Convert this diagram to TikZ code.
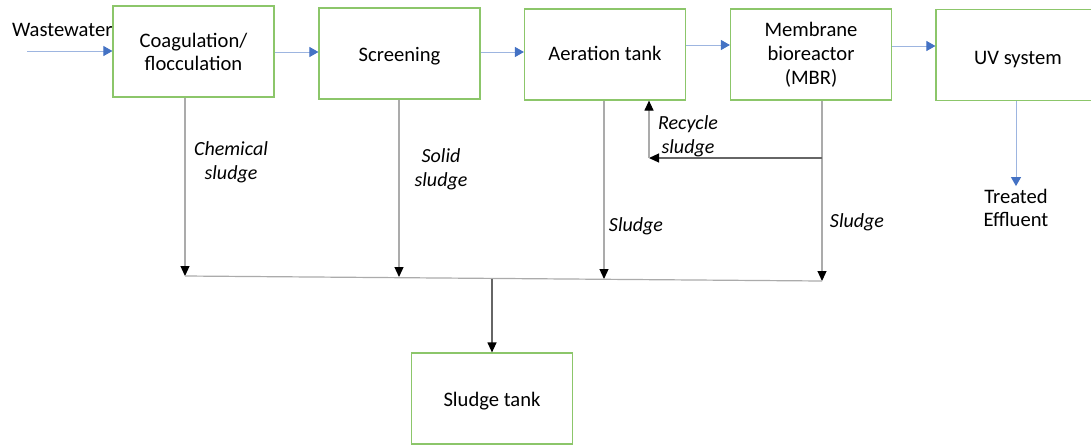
\documentclass[tikz,border=0pt]{standalone}
\usepackage{fontspec}
\setmainfont{Carlito}
\usetikzlibrary{arrows.meta}
\definecolor{boxgreen}{HTML}{8CC66A}
\definecolor{flowblue}{HTML}{9DB5E0}
\definecolor{tipblue}{HTML}{4472C4}
\definecolor{sludgegray}{HTML}{ABABAB}
\newcommand\boxtext[2]{\raisebox{-#1}[\height][\depth]{\begin{tabular}{@{}c@{}}#2\end{tabular}}}
\tikzstyle{unit}=[draw=boxgreen,line width=.6pt,minimum width=80.5pt,minimum height=45.5pt,align=center,inner sep=2pt]
\tikzstyle{flowhead}=[>/.tip={Triangle[color=tipblue,length=4.5pt,width=5pt]}]
\tikzstyle{sludgehead}=[>/.tip={Triangle[color=black,length=5pt,width=4.5pt]}]
\tikzstyle{flow}=[line width=.5pt,draw=flowblue,flowhead,->]
\tikzstyle{sl}=[line width=.6pt,draw=sludgegray,sludgehead,->]
\tikzstyle{note}=[font=\itshape,align=center]
\begin{document}
\begin{tikzpicture}[x=0.5pt,y=-0.5pt,font=\fontsize{10.3}{11.6}\selectfont]
	\useasboundingbox (0,0) rectangle (1091,445);
	\node[unit] (coag)   at (193.5,51.5) {\boxtext{1.3pt}{Coagulation/\\flocculation}};
	\node[unit] (screen) at (399.5,53.5) {\boxtext{1.5pt}{Screening}};
	\node[unit] (aer)    at (605,54.5)   {\boxtext{0.8pt}{Aeration tank}};
	\node[unit] (mbr)    at (811,54.5)   {\boxtext{0.8pt}{Membrane\\[0.5pt]bioreactor\\[0.5pt](MBR)}};
	\node[unit,minimum width=82pt] (uv) at (1018,55) {\boxtext{2.3pt}{UV system}};
	\node[unit] (tank)   at (492,398.5)  {\boxtext{1.8pt}{Sludge tank}};
	\node[anchor=west] (ww) at (5,30) {Wastewater};
	\node[align=center] (eff) at (1016,208) {Treated\\Effluent};
	\coordinate (in) at (27,51);
	\draw[flow] (in) -- (coag.west |- in);
	\draw[flow] (coag.east |- 0,52) -- (screen.west |- 0,52);
	\draw[flow] (screen.east |- 0,52) -- (aer.west |- 0,52);
	\draw[flow] (aer.east |- 0,45) -- (mbr.west |- 0,45);
	\draw[flow] (mbr.east |- 0,46) -- (uv.west |- 0,46);
	\draw[flow] (uv.south -| eff) -- ([yshift=-2pt]eff.north);
	\coordinate (j1) at (185,276);
	\coordinate (j2) at (399,277);
	\coordinate (j3) at (604,279);
	\coordinate (j4) at (822,281);
	\coordinate (jt) at (492,278.5);
	\draw[sl] (coag.south -| j1) -- (j1);
	\draw[sl] (screen.south -| j2) -- (j2);
	\draw[sl] (aer.south -| j3) -- (j3);
	\draw[sl] (mbr.south -| j4) -- (j4);
	\draw[sludgegray,line width=.6pt] (j1) -- (j4);
	\draw[sl,draw=black!60] (jt) -- (tank);
	\coordinate (r1) at (822,158);
	\coordinate (r2) at (649,158);
	\draw[sl,draw=black!60] (r1) -- (r2);
	\draw[sl] (r2) -- (aer.south -| r2);
	\node[note] (chem)  at (231,162) {Chemical\\sludge};
	\node[note] (solid) at (441,169) {Solid\\sludge};
	\node[note] (sa)    at (636,226) {Sludge};
	\node[note] (sm)    at (857,222) {Sludge};
	\node[note] (rec)   at (688,136) {Recycle\\sludge};
\end{tikzpicture}
\end{document}
